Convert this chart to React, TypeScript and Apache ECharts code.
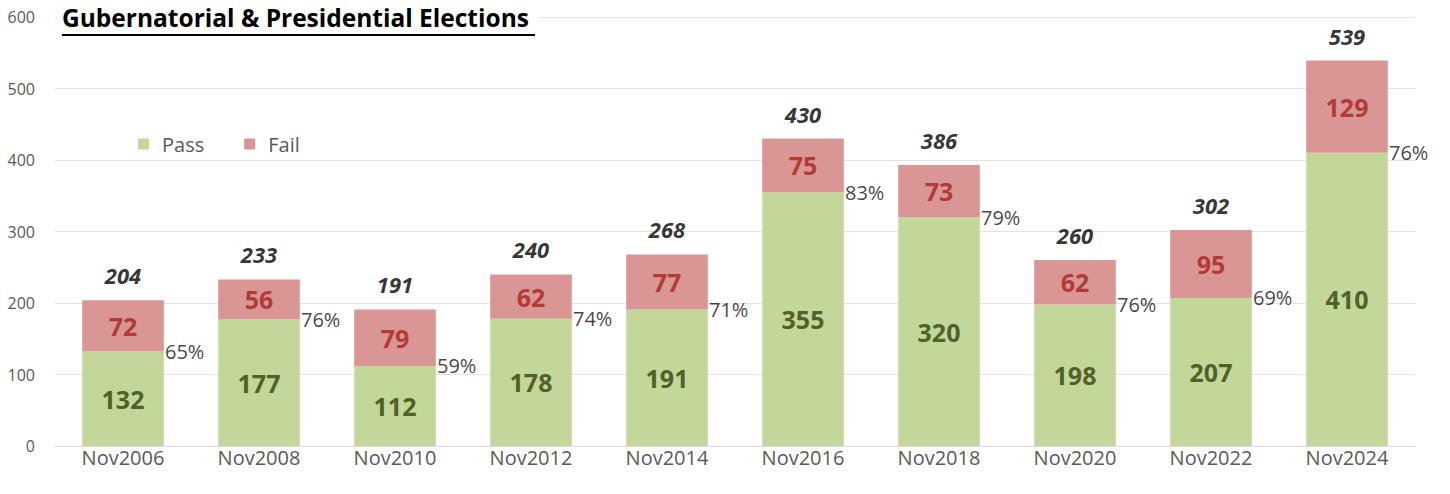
import React, { useEffect, useRef } from "react";
import * as echarts from "echarts";

const categories = ["Nov2006", "Nov2008", "Nov2010", "Nov2012", "Nov2014", "Nov2016", "Nov2018", "Nov2020", "Nov2022", "Nov2024"];
const passValues = [132, 177, 112, 178, 191, 355, 320, 198, 207, 410];
const failValues = [72, 56, 79, 62, 77, 75, 73, 62, 95, 129];
const totalLabels = ["204", "233", "191", "240", "268", "430", "386", "260", "302", "539"];
const passPercent = ["65%", "76%", "59%", "74%", "71%", "83%", "79%", "76%", "69%", "76%"];
const yTicks = [0, 100, 200, 300, 400, 500, 600];

const FONT = "'Open Sans', 'Noto Sans', sans-serif";

export default function App() {
  const ref = useRef<HTMLDivElement>(null);
  useEffect(() => {
    document.body.style.margin = "0";
    if (!ref.current) return;
    const chart = echarts.init(ref.current, undefined, { renderer: "svg" });
    const stackTops = passValues.map((p, i) => p + failValues[i]);
    chart.setOption({
      animation: false,
      textStyle: { fontFamily: FONT },
      grid: { left: 55, right: 35, top: 17, bottom: 48 },
      legend: {
        data: ["Pass", "Fail"],
        left: 133,
        top: 129,
        itemWidth: 11,
        itemHeight: 11,
        itemGap: 40,
        icon: "rect",
        textStyle: { fontSize: 20, color: "#595959", fontFamily: FONT, padding: [0, 0, 0, 8] },
      },
      graphic: [
        {
          type: "rect",
          z: 100,
          shape: { x: 58, y: 4, width: 482, height: 34 },
          style: { fill: "#ffffff" },
        },
        {
          type: "text",
          z: 101,
          left: 62,
          top: 5,
          style: {
            text: "Gubernatorial & Presidential Elections",
            fontSize: 24.5,
            fontWeight: "bold",
            fontFamily: FONT,
            fill: "#000",
          },
        },
        {
          type: "line",
          z: 101,
          shape: { x1: 62, y1: 35, x2: 535, y2: 35 },
          style: { stroke: "#000", lineWidth: 2 },
        },
      ],
      xAxis: {
        type: "category",
        data: categories,
        axisTick: { show: false },
        axisLine: { lineStyle: { color: "#d9d9d9" } },
        axisLabel: { color: "#595959", fontSize: 20, margin: 1, fontFamily: FONT },
      },
      yAxis: {
        type: "value",
        min: yTicks[0],
        max: yTicks[yTicks.length - 1],
        interval: 100,
        axisLabel: { color: "#595959", fontSize: 16, margin: 20, fontFamily: FONT },
        splitLine: { lineStyle: { color: "#e3e3e3" } },
        axisLine: { show: false },
        axisTick: { show: false },
      },
      series: [
        {
          name: "Pass",
          type: "bar",
          stack: "total",
          data: passValues,
          barCategoryGap: "40%",
          itemStyle: { color: "#c4d79b" },
          label: {
            show: true,
            position: "inside",
            color: "#4f6228",
            fontSize: 25,
            fontWeight: "bold",
            fontFamily: FONT,
          },
        },
        {
          name: "Fail",
          type: "bar",
          stack: "total",
          data: failValues,
          itemStyle: { color: "#da9694" },
          label: {
            show: true,
            position: "inside",
            color: "#b23b39",
            fontSize: 25,
            fontWeight: "bold",
            fontFamily: FONT,
          },
        },
        {
          type: "scatter",
          data: passValues,
          symbolSize: 0,
          silent: true,
          label: {
            show: true,
            position: "right",
            distance: 42,
            formatter: (p: any) => passPercent[p.dataIndex],
            color: "#111",
            fontSize: 20,
            fontFamily: FONT,
          },
        },
        {
          type: "scatter",
          data: stackTops,
          symbolSize: 0,
          silent: true,
          label: {
            show: true,
            position: "top",
            distance: 14,
            formatter: (p: any) => totalLabels[p.dataIndex],
            color: "#000",
            fontSize: 22,
            fontWeight: "bold",
            fontStyle: "italic",
            fontFamily: FONT,
          },
        },
      ],
    });
    return () => chart.dispose();
  }, []);
  return <div ref={ref} style={{ width: 1450, height: 494 }} />;
}
